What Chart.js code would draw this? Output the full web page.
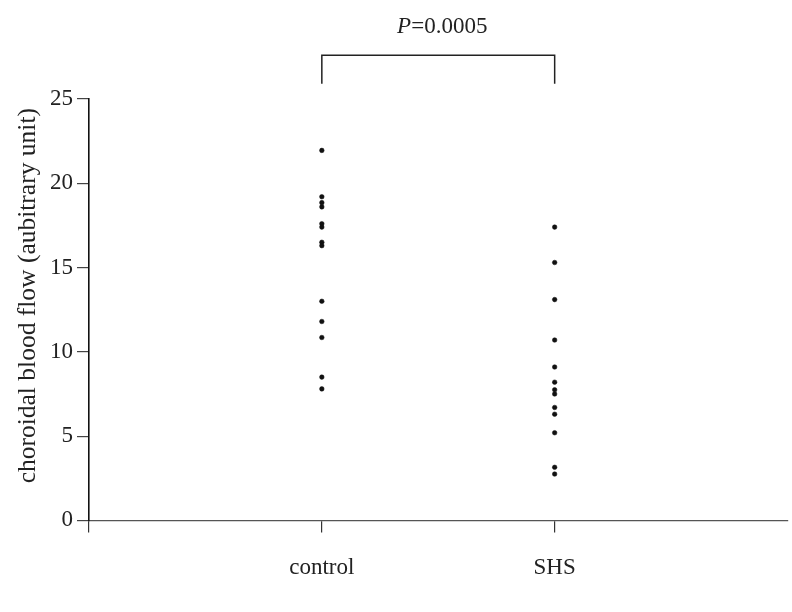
<!DOCTYPE html>
<html>
<head>
<meta charset="utf-8">
<script src="https://cdn.jsdelivr.net/npm/chart.js@4/dist/chart.umd.min.js"></script>
<style>
  html, body { margin: 0; padding: 0; background: #fff; }
  #wrap { width: 792px; height: 612px; }
</style>
</head>
<body>
<div id="wrap"><canvas id="chart" width="792" height="612"></canvas></div>
<script>
// groups on the x axis (plotted at x = 1, 2)
const categories = ['control', 'SHS'];
const controlValues = [21.95, 19.2, 18.85, 18.6, 17.6, 17.4, 16.5, 16.3, 13.0, 11.8, 10.85, 8.5, 7.8];
const shsValues = [17.4, 15.3, 13.1, 10.7, 9.1, 8.2, 7.75, 7.5, 6.7, 6.3, 5.2, 3.15, 2.75];
const xTicks = [0, 1, 2];
const yTicks = [0, 5, 10, 15, 20, 25];
const yTitle = 'choroidal blood flow (aubitrary unit)';
const pText = ['P', '=0.0005'];
// bracket: top level and leg ends, in y units
const bracketLevels = [27.6, 25.9];
const pTextLevel = 29.3;

const serif = '"Liberation Serif", "DejaVu Serif", serif';

const toPoints = (vals, x) => vals.map(v => ({ x, y: v }));

const annotations = {
    id: 'annotations',
    afterDraw(chart) {
        const { ctx, scales, chartArea } = chart;
        const x1 = scales.x.getPixelForValue(1);
        const x2 = scales.x.getPixelForValue(2);
        const yTop = scales.y.getPixelForValue(bracketLevels[0]);
        const yLeg = scales.y.getPixelForValue(bracketLevels[1]);
        ctx.save();
        ctx.strokeStyle = '#222';
        ctx.lineWidth = 1.5;
        ctx.beginPath();
        ctx.moveTo(x1, yLeg);
        ctx.lineTo(x1, yTop);
        ctx.lineTo(x2, yTop);
        ctx.lineTo(x2, yLeg);
        ctx.stroke();

        // P=0.0005 with italic P
        const yT = scales.y.getPixelForValue(pTextLevel);
        ctx.fillStyle = '#222';
        ctx.textBaseline = 'middle';
        ctx.font = 'italic 23px ' + serif;
        const w1 = ctx.measureText(pText[0]).width;
        ctx.font = '23px ' + serif;
        const w2 = ctx.measureText(pText[1]).width;
        const xs = (x1 + x2) / 2 + 4 - (w1 + w2) / 2;
        ctx.textAlign = 'left';
        ctx.font = 'italic 23px ' + serif;
        ctx.fillText(pText[0], xs, yT);
        ctx.font = '23px ' + serif;
        ctx.fillText(pText[1], xs + w1, yT);

        // y axis title, sitting a bit above the middle of the plot like the original
        ctx.translate(28, (chartArea.top + chartArea.bottom) / 2 - 14);
        ctx.rotate(-Math.PI / 2);
        ctx.textAlign = 'center';
        ctx.font = '25.5px ' + serif;
        ctx.fillText(yTitle, 0, 0);
        ctx.restore();
    }
};

new Chart(document.getElementById('chart'), {
    type: 'scatter',
    data: {
        datasets: [
            {
                label: categories[0],
                data: toPoints(controlValues, 1),
                backgroundColor: '#111',
                borderColor: '#111',
                pointRadius: 2.3,
                pointBorderWidth: 0.5
            },
            {
                label: categories[1],
                data: toPoints(shsValues, 2),
                backgroundColor: '#111',
                borderColor: '#111',
                pointRadius: 2.3,
                pointBorderWidth: 0.5
            }
        ]
    },
    options: {
        responsive: false,
        animation: false,
        layout: { padding: { left: 46, right: 0, top: 99, bottom: 8 } },
        plugins: {
            legend: { display: false },
            tooltip: { enabled: false }
        },
        scales: {
            x: {
                type: 'linear',
                min: 0,
                max: 3,
                border: { display: true, color: '#555', width: 1.3 },
                grid: { drawOnChartArea: false, drawTicks: true, tickLength: 12, color: '#333', lineWidth: 1.2 },
                afterBuildTicks: axis => { axis.ticks = xTicks.map(v => ({ value: v })); },
                ticks: {
                    padding: 22,
                    color: '#222',
                    font: { family: serif, size: 23 },
                    callback: v => categories[v - 1] || ''
                }
            },
            y: {
                min: 0,
                max: 25,
                border: { display: true, color: '#111', width: 1.6 },
                grid: { drawOnChartArea: false, drawTicks: true, tickLength: 12, color: '#444', lineWidth: 1.2 },
                afterBuildTicks: axis => { axis.ticks = yTicks.map(v => ({ value: v })); },
                ticks: {
                    padding: 4,
                    color: '#222',
                    font: { family: serif, size: 23 }
                }
            }
        }
    },
    plugins: [annotations]
});
</script>
</body>
</html>
